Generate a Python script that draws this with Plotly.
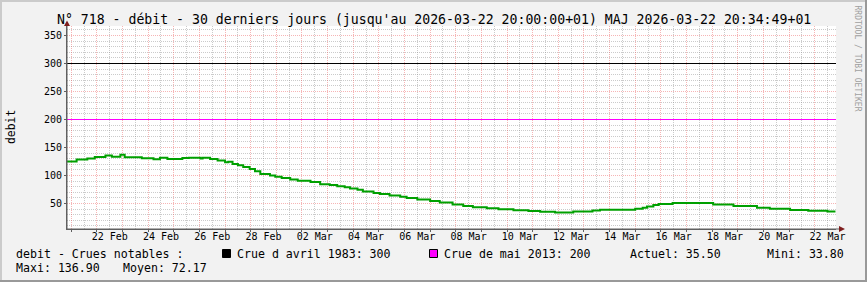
import plotly.graph_objects as go

# ---------------- data ----------------
dates = [
    "2026-02-20 20:00", "2026-02-21 05:00", "2026-02-21 15:00", "2026-02-21 22:00",
    "2026-02-22 08:00", "2026-02-22 14:00", "2026-02-22 22:00", "2026-02-23 02:00",
    "2026-02-23 18:00", "2026-02-24 05:00", "2026-02-24 11:00", "2026-02-24 18:00",
    "2026-02-25 08:00", "2026-02-25 14:00", "2026-02-26 01:00", "2026-02-26 03:00",
    "2026-02-26 10:00", "2026-02-26 17:00", "2026-02-27 00:00", "2026-02-27 03:00",
    "2026-02-27 07:00", "2026-02-27 12:00", "2026-02-27 17:00", "2026-02-27 23:00",
    "2026-02-28 04:00", "2026-02-28 09:00", "2026-02-28 18:00", "2026-02-28 23:00",
    "2026-03-01 05:00", "2026-03-01 13:00", "2026-03-01 20:00", "2026-03-02 08:00",
    "2026-03-02 17:00", "2026-03-03 02:00", "2026-03-03 09:00", "2026-03-03 16:00",
    "2026-03-03 21:00", "2026-03-04 04:00", "2026-03-04 09:00", "2026-03-04 19:00",
    "2026-03-05 01:00", "2026-03-05 10:00", "2026-03-05 20:00", "2026-03-06 02:00",
    "2026-03-06 12:00", "2026-03-07 00:00", "2026-03-07 09:00", "2026-03-07 21:00",
    "2026-03-08 07:00", "2026-03-08 16:00", "2026-03-09 05:00", "2026-03-09 16:00",
    "2026-03-10 06:00", "2026-03-10 20:00", "2026-03-11 07:00", "2026-03-11 21:00",
    "2026-03-12 14:00", "2026-03-13 08:00", "2026-03-13 15:00", "2026-03-15 00:00",
    "2026-03-15 07:00", "2026-03-15 11:00", "2026-03-15 17:00", "2026-03-15 22:00",
    "2026-03-16 11:00", "2026-03-18 01:00", "2026-03-18 20:00", "2026-03-19 18:00",
    "2026-03-20 06:00", "2026-03-21 01:00", "2026-03-21 18:00", "2026-03-22 12:00",
    "2026-03-22 19:30",
]
debit = [
    124.8, 128.4, 130.2, 133.1,
    135.6, 133.6, 136.9, 132.6,
    130.6, 129.0, 131.9, 129.6,
    131.4, 131.9, 130.2, 131.6,
    129.6, 126.6, 123.6, 124.6,
    120.6, 118.3, 115.3, 111.6,
    107.6, 102.8, 99.9, 97.8,
    95.5, 93.0, 90.7, 88.3,
    84.5, 83.0, 81.0, 78.8,
    77.0, 74.6, 71.6, 68.7,
    66.9, 64.5, 62.1, 59.7,
    57.0, 54.6, 51.6, 48.1,
    45.7, 43.3, 41.6, 39.8,
    38.0, 36.7, 35.2, 33.8,
    35.6, 37.4, 38.8, 40.4,
    42.6, 44.8, 47.2, 49.0,
    50.8, 48.0, 45.6, 42.6,
    40.4, 38.6, 36.9, 35.5,
    35.5,
]

crue_1983_name = "Crue d avril 1983: 300"
crue_1983_value = 300
crue_1983_color = "#000000"
crue_2013_name = "Crue de mai 2013: 200"
crue_2013_value = 200
crue_2013_color = "#FF00FF"

x_start = "2026-02-20 20:00"
x_end = "2026-03-22 20:00"

label_dates = [
    "2026-02-22 12:00", "2026-02-24 12:00", "2026-02-26 12:00", "2026-02-28 12:00",
    "2026-03-02 12:00", "2026-03-04 12:00", "2026-03-06 12:00", "2026-03-08 12:00",
    "2026-03-10 12:00", "2026-03-12 12:00", "2026-03-14 12:00", "2026-03-16 12:00",
    "2026-03-18 12:00", "2026-03-20 12:00", "2026-03-22 12:00",
]
label_text = [
    "22 Feb", "24 Feb", "26 Feb", "28 Feb", "02 Mar", "04 Mar", "06 Mar", "08 Mar",
    "10 Mar", "12 Mar", "14 Mar", "16 Mar", "18 Mar", "20 Mar", "22 Mar",
]

title_text = ("N° 718 - débit - 30 derniers jours (jusqu'au 2026-03-22 20:00:00+01) "
              "MAJ 2026-03-22 20:34:49+01")
stat_actuel = "Actuel: 35.50"
stat_mini = "Mini: 33.80"
stat_maxi = "Maxi: 136.90"
stat_moyen = "Moyen: 72.17"

# ---------------- layout geometry ----------------
W, H = 867, 282
L, R, T, B = 67, 836, 26, 229
Y_MAX = 366.96
Y_MIN = Y_MAX - (B - T) / 0.56

def px(x):
    return (x - L) / (R - L)

def py(y):
    return (B - y) / (B - T)

MONO = "DejaVu Sans Mono"
GREEN = "#00A000"
GRID_MINOR = "rgba(140,140,140,0.45)"
GRID_MAJOR = "rgba(235,90,90,0.45)"
AXIS = "#606060"
ARROW = "#7F1F1F"

fig = go.Figure()

# invisible carrier so the label axis (x2) is drawn
fig.add_trace(go.Scatter(
    x=[x_start, x_end], y=[None, None], mode="lines", xaxis="x2", yaxis="y",
    showlegend=False, hoverinfo="skip"))

fig.add_trace(go.Scatter(
    x=dates, y=debit, mode="lines", line=dict(color=GREEN, width=2, shape="hv"),
    xaxis="x", yaxis="y", showlegend=False, hoverinfo="skip"))

for val, col in [(crue_1983_value, crue_1983_color), (crue_2013_value, crue_2013_color)]:
    fig.add_trace(go.Scatter(
        x=[x_start, x_end], y=[val, val], mode="lines",
        line=dict(color=col, width=1), xaxis="x", yaxis="y",
        showlegend=False, hoverinfo="skip"))

fig.update_layout(
    width=W, height=H,
    margin=dict(l=L, r=W - R, t=T, b=H - B, pad=0),
    paper_bgcolor="#F2F2F2", plot_bgcolor="#FFFFFF",
    font=dict(family=MONO, size=10, color="#000000"),
    showlegend=False,
    xaxis=dict(
        type="date", range=[x_start, x_end],
        tick0="2026-02-21 00:00", dtick=86400000,
        showticklabels=False, ticks="outside", ticklen=2, tickcolor=AXIS,
        showgrid=True, gridcolor=GRID_MAJOR, griddash="1px,1px", gridwidth=1,
        minor=dict(dtick=43200000, tick0="2026-02-21 00:00", showgrid=True,
                   gridcolor=GRID_MINOR, griddash="1px,1px", gridwidth=1),
        showline=True, linecolor=AXIS, linewidth=1, zeroline=False,
        fixedrange=True,
    ),
    xaxis2=dict(
        type="date", range=[x_start, x_end], overlaying="x", anchor="y", side="bottom",
        tickmode="array", tickvals=label_dates, ticktext=label_text,
        ticks="", showgrid=False, showline=False, zeroline=False,
        tickfont=dict(family=MONO, size=10, color="#000000"),
        fixedrange=True,
    ),
    yaxis=dict(
        range=[Y_MIN, Y_MAX], tick0=0, dtick=50,
        ticks="outside", ticklen=2, tickcolor=AXIS,
        showgrid=True, gridcolor=GRID_MAJOR, griddash="1px,1px", gridwidth=1,
        minor=dict(dtick=10, tick0=0, showgrid=True, gridcolor=GRID_MINOR,
                   griddash="1px,1px", gridwidth=1),
        showline=True, linecolor=AXIS, linewidth=1, zeroline=False,
        tickfont=dict(family=MONO, size=10, color="#000000"),
        fixedrange=True,
    ),
)

ann = []
def text(x, y, s, size=11.6, color="#000000", anchor="left", angle=0):
    ann.append(dict(x=px(x), y=py(y), xref="paper", yref="paper", text=s,
                    showarrow=False, xanchor=anchor, yanchor="middle",
                    font=dict(family=MONO, size=size, color=color),
                    textangle=angle, borderpad=0, borderwidth=0))

text(433.5, 19.3, title_text, size=13.2, anchor="center")
text(11, 127, "debit", size=11.4, anchor="center", angle=-90)
text(857, 58.5, "RRDTOOL / TOBI OETIKER", size=8, color="#A0A0A0", anchor="center", angle=90)
text(16, 254, "debit - Crues notables :")
text(237, 254, crue_1983_name)
text(444, 254, crue_2013_name)
text(630, 254, stat_actuel)
text(766.5, 254, stat_mini)
text(16, 268.3, stat_maxi)
text(123, 268.3, stat_moyen)
fig.update_layout(annotations=ann)

shapes = []
def rect(x0, y0, x1, y1, fill, line=None):
    shapes.append(dict(type="rect", xref="paper", yref="paper",
                       x0=px(x0), x1=px(x1), y0=py(y0), y1=py(y1),
                       fillcolor=fill, line=dict(width=1 if line else 0, color=line or fill),
                       layer="above"))

# frame shading
rect(0, 0, W, 2, "#CBCBCB")
rect(0, 0, 2, H, "#CBCBCB")
rect(0, H - 2, W, H, "#999999")
rect(W - 2, 0, W, H, "#999999")
# legend swatches
rect(222.5, 249.5, 230.5, 257.5, crue_1983_color, "#000000")
rect(429.5, 249.5, 437.5, 257.5, crue_2013_color, "#000000")

def path(pts, fill, line_w=0):
    d = "M " + " L ".join(f"{px(a)},{py(b)}" for a, b in pts) + " Z"
    shapes.append(dict(type="path", xref="paper", yref="paper", path=d,
                       fillcolor=fill, line=dict(width=line_w, color=fill), layer="above"))

# axis extensions + arrows
shapes.append(dict(type="line", xref="paper", yref="paper", x0=px(L), x1=px(L),
                   y0=py(B), y1=py(22), line=dict(color=AXIS, width=1)))
shapes.append(dict(type="line", xref="paper", yref="paper", x0=px(L), x1=px(841),
                   y0=py(B), y1=py(B), line=dict(color=AXIS, width=1)))
path([(L - 3, 26), (L, 20.5), (L + 3, 26)], ARROW)
path([(839, B - 3), (845, B), (839, B + 3)], ARROW)
fig.update_layout(shapes=shapes)

fig.write_html("out.html")
